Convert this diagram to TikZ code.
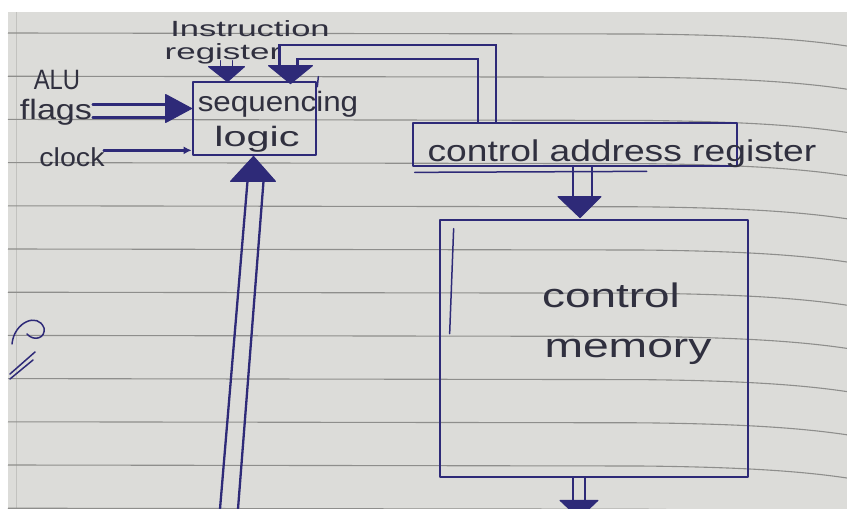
\documentclass[tikz,border=0pt]{standalone}
\usepackage{fontspec}
\setmainfont{Liberation Sans}
\usetikzlibrary{calc,arrows.meta}
\definecolor{paper}{HTML}{DCDCD9}
\definecolor{rule}{HTML}{8E8E8C}
\definecolor{ink}{HTML}{2E2A78}
\definecolor{pen}{HTML}{30303F}
\begin{document}
\begin{tikzpicture}[x=1pt,y=-1pt,
  box/.style={draw=ink,line width=2.7pt,inner sep=0pt,line join=round},
  wire/.style={draw=ink,line width=2.3pt,line cap=round},
  thinwire/.style={draw=ink,line width=1.5pt,line cap=round},
  head/.style={fill=ink,draw=ink,line width=1pt,line join=round},
  lbl/.style={text=pen,inner sep=0pt,anchor=base}]
\useasboundingbox (0,0) rectangle (847,509);
\clip (0,0) rectangle (847,509);
% paper
\fill[white] (0,0) rectangle (847,509);
\fill[paper] (8,12) rectangle (847,509);
\draw[paper!88!black,line width=0.8pt] (16,12) -- (16,509);
\foreach \i in {0,...,11}{
  \pgfmathsetmacro\yy{33+43.2*\i}
  \draw[rule,line width=1.1pt] (8,\yy) -- (640,\yy+1) .. controls (740,\yy+2) and (800,\yy+6) .. (847,\yy+13);
}
% boxes
\node[box,minimum width=123pt,minimum height=73pt] (seq) at (254.5,118.5) {};
\node[box,minimum width=324pt,minimum height=43pt] (car) at (575,144.5) {};
\node[box,minimum width=308pt,minimum height=257pt] (cm) at (594,348.5) {};
% extra hand strokes of the boxes
\draw[thinwire] ($(car.south west)+(3,5)$) -- ($(car.south west)+(235,4)$);
\draw[thinwire] ($(cm.north west)+(15,10)$) -- ($(cm.north west)+(11,115)$);
\draw[thinwire] ($(seq.north east)+(1,-4)$) -- ($(seq.north east)+(0,6)$);
% labels
\node[lbl,font=\fontsize{22}{22}\selectfont] (ir1) at (250,36) {\scalebox{1.57}[1]{Instruction}};
\node[lbl,font=\fontsize{22}{22}\selectfont] (ir2) at (223,59) {\scalebox{1.59}[1]{register}};
\node[lbl,font=\fontsize{28}{28}\selectfont] (alu) at (57,89) {\scalebox{0.85}[1]{ALU}};
\node[lbl,font=\fontsize{28}{28}\selectfont] (flags) at (56,119) {\scalebox{1.22}[1]{flags}};
\node[lbl,font=\fontsize{26}{26}\selectfont] (clock) at (72,166) {\scalebox{1.1}[1]{clock}};
\node[lbl,font=\fontsize{28}{28}\selectfont] (seqt) at (278,111) {\scalebox{1.12}[1]{sequencing}};
\node[lbl,font=\fontsize{28}{28}\selectfont] (logt) at (257,146) {\scalebox{1.48}[1]{logic}};
\node[lbl,font=\fontsize{30}{30}\selectfont] (cart) at (622,161) {\scalebox{1.24}[1]{control address register}};
\node[lbl,font=\fontsize{34}{34}\selectfont] (cm1) at (611,307) {\scalebox{1.35}[1]{control}};
\node[lbl,font=\fontsize{34}{34}\selectfont] (cm2) at (628,357) {\scalebox{1.36}[1]{memory}};
% instruction register -> sequencing logic
\coordinate (irTip) at ($(seq.north)+(-27,1)$);
\draw[thinwire] ($(irTip)+(-7,-21)$) -- ($(irTip)+(-7,-14)$);
\draw[thinwire] ($(irTip)+(5,-21)$) -- ($(irTip)+(5,-14)$);
\draw[head] (irTip) -- ++(-19,-15) -- ++(36,0) -- cycle;
% control address register loop -> sequencing logic
\coordinate (loopTip) at ($(seq.north)+(36,3)$);
\draw[wire] ($(car.north west)+(84,0)$) -- ($(car.north west)+(84,-77)$) -| ($(loopTip)+(-11,-17)$);
\draw[wire] ($(car.north west)+(66,0)$) -- ($(car.north west)+(66,-63)$) -| ($(loopTip)+(7,-17)$);
\draw[head] (loopTip) -- ++(-22,-18) -- ++(44,0) -- cycle;
% ALU flags -> sequencing logic
\coordinate (flTip) at ($(seq.west)+(0,-10)$);
\draw[wire] ($(flTip)+(-99,-4)$) -- ($(flTip)+(-24,-4)$);
\draw[wire] ($(flTip)+(-99,9)$) -- ($(flTip)+(-24,9)$);
\draw[head] (flTip) -- ++(-26,-14) -- ++(0,28) -- cycle;
% clock -> sequencing logic
\coordinate (clkIn) at ($(seq.south west)+(0,-6)$);
\draw[wire,-{Latex[length=8pt,width=8pt]}] ($(clkIn)+(-88,0)$) -- (clkIn);
% bottom input -> sequencing logic
\coordinate (botTip) at ($(seq.south)+(-1,0)$);
\draw[wire] ($(botTip)+(-6,25)$) -- (220,509);
\draw[wire] ($(botTip)+(10,25)$) -- (238,509);
\draw[head] (botTip) -- ++(-23,25) -- ++(45,0) -- cycle;
% control address register -> control memory
\coordinate (cmTip) at ($(cm.north)+(-14,-1)$);
\draw[wire] ($(car.south)+(-2,0)$) -- ($(cmTip)+(-7,-21)$);
\draw[wire] ($(car.south)+(17,0)$) -- ($(cmTip)+(12,-21)$);
\draw[head] (cmTip) -- ++(-22,-21) -- ++(43,0) -- cycle;
% control memory -> out
\coordinate (outBase) at ($(cm.south)+(-15,22)$);
\draw[wire] ($(cm.south)+(-21,0)$) -- ($(outBase)+(-6,0)$);
\draw[wire] ($(cm.south)+(-9,0)$) -- ($(outBase)+(6,0)$);
\draw[head] ($(outBase)+(-19,0)$) -- ++(38,0) -- ++(-19,18) -- cycle;
% cut-off scribble at left
\draw[thinwire] (12,344) .. controls (14,322) and (38,312) .. (44,328) .. controls (46,338) and (34,342) .. (27,334);
\draw[thinwire] (10,374) -- (35,352);
\draw[thinwire] (10,379) -- (33,360);
\end{tikzpicture}
\end{document}
